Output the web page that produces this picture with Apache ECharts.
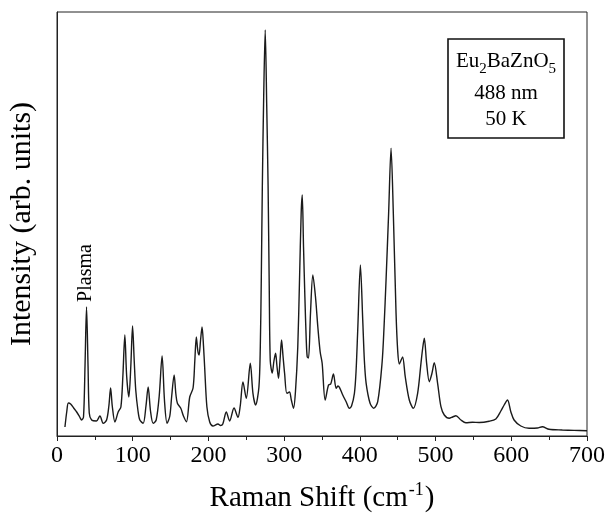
<!DOCTYPE html>
<html>
<head>
<meta charset="utf-8">
<script src="https://cdn.jsdelivr.net/npm/echarts@6/dist/echarts.min.js"></script>
<style>html,body{margin:0;padding:0;background:#fff;}#c{width:608px;height:521px;}</style>
</head>
<body>
<div id="c"></div>
<script>
const shift = [10.5,13,15,18,22,26,30,32.5,35,37,39,41,42.6,45.7,52,56.7,61,65.5,68.5,70.8,73,76.5,80.8,84.4,87,89.6,92,94.9,97.5,99.8,102,104,107,109.4,113.8,117.5,120.4,123.5,127,131,135,138.8,142,145.4,149,151.5,154.7,157,159,163.5,167,171,175.3,179.7,182,184,186,187.6,189.5,191.6,193.5,195,198,201.7,206,212.6,216,219,223.6,228,233.8,239,242,245.6,250,255.3,258.8,262.3,266.7,268.5,269.8,271.2,273,275,277,278.8,280.3,281.7,284.3,286.5,288.7,290.5,292.6,294.5,296.6,298.5,300.6,303.6,307,309.5,312.4,315,318,320.3,322.5,323.9,325.6,327.4,329.2,330.5,332.2,334.8,337.9,341.4,344.5,347.6,350.2,354.2,358.6,361.5,365.1,368.7,371,373,377.4,381.9,386.2,389,392.8,395,397.2,400.7,403.8,406,408.3,413.5,418.3,423.6,429.3,432,434.6,438,441.2,444.2,447.8,450,452.1,454.5,456.5,460,465.3,470.6,476.3,480.7,483,485.1,488.2,491.7,495,498.3,502.7,507.1,511.5,518,522.5,526.9,533.5,540,548.8,557.6,570.8,579.6,586.2,590.6,595,599.4,603.7,612.6,623.5,634.5,641,649.9,667.4,683,700];
const intensity = [9,25,33,32,28,24,19,16,19,70,129,70,23,16,15,20,12.7,16,30,48,30,14,24,29,60,101,60,39,70,110,75,46,25,16,12.7,30,49,25,12.7,16,40,80,35,12.7,20,40,61,42,32.7,27.7,20,14.3,39,48,75,99,85,81,95,109,90,69,29,14,10,12,10.5,12,24,15,28,18.7,30,54,37.7,72.7,42.7,31,49,89,156,250,340,406,330,250,150,75,63,75,82.7,70,57.7,75,96,80,62.7,42.7,44,36,27.7,45,89,156,223,241,189,139,96,79,78,122.7,161,139,109,84,72.7,36,51,52,62,47.7,50,48.7,41,34.3,27.7,30,42.7,65,106,171,116,75,52.7,32.7,27.7,34.3,72.7,110,156,222.7,287.7,222.7,122.7,85,72,76,79,59,36,27.7,42.7,72.7,88,97.7,72.7,54.3,62,73.3,52.7,29.3,21,17.7,19,20.3,16,13.3,13.7,13.5,14.7,17,25,31,36,24.3,16,10,7.7,8,9.3,6.7,6,5.6,5.3];
const xTicks = [0,100,200,300,400,500,600,700];

const chart = echarts.init(document.getElementById('c'));
const serif = '"Liberation Serif","DejaVu Serif",serif';
chart.setOption({
  animation: false,
  backgroundColor: '#fff',
  grid: {left: 57, right: 20, top: 12, bottom: 85, show: true, borderColor: '#222', borderWidth: 1, backgroundColor: 'transparent'},
  xAxis: {
    type: 'value', min: xTicks[0], max: xTicks[xTicks.length-1], interval: 100,
    axisLine: {show: true, lineStyle: {color: '#222', width: 1}},
    axisTick: {show: true, length: 5, inside: false, lineStyle: {color: '#222'}},
    minorTick: {show: true, splitNumber: 2, length: 4, lineStyle: {color: '#222'}},
    splitLine: {show: false},
    axisLabel: {color: '#000', fontFamily: serif, fontSize: 24, margin: 8}
  },
  yAxis: {
    type: 'value', min: 0, max: 424,
    axisLine: {show: true, lineStyle: {color: '#222'}},
    axisTick: {show: false}, axisLabel: {show: false}, splitLine: {show: false}
  },
  series: [{
    type: 'line',
    data: shift.map((s, i) => [s, intensity[i]]),
    showSymbol: false, smooth: 0.3,
    lineStyle: {color: '#1a1a1a', width: 1.4}
  }],
  graphic: [
    {type: 'text', x: 322, y: 497, style: {
      text: '{a|Raman Shift (cm}{s|-1}{a|)}', align: 'center', verticalAlign: 'middle', textAlign: 'center', textVerticalAlign: 'middle',
      rich: {a: {fontFamily: serif, fontSize: 29, fill: '#000', lineHeight: 32, verticalAlign: 'bottom'},
             s: {fontFamily: serif, fontSize: 18, fill: '#000', verticalAlign: 'top', lineHeight: 32, padding: [0,1,13,1]}}
    }},
    {type: 'text', x: 22, y: 224, rotation: Math.PI/2, style: {
      text: 'Intensity (arb. units)', fontFamily: serif, fontSize: 30, fill: '#000',
      align: 'center', verticalAlign: 'middle', textAlign: 'center', textVerticalAlign: 'middle'
    }},
    {type: 'text', x: 86, y: 273, rotation: Math.PI/2, style: {
      text: 'Plasma', fontFamily: serif, fontSize: 20, fill: '#000',
      align: 'center', verticalAlign: 'middle', textAlign: 'center', textVerticalAlign: 'middle'
    }},
    {type: 'rect', shape: {x: 448, y: 39, width: 116, height: 99}, style: {fill: '#fff', stroke: '#111', lineWidth: 1.6}, z: 10},
    {type: 'text', x: 506, y: 64, z: 11, style: {
      text: '{a|Eu}{b|2}{a|BaZnO}{b|5}', align: 'center', verticalAlign: 'middle', textAlign: 'center', textVerticalAlign: 'middle',
      rich: {a: {fontFamily: serif, fontSize: 21, fill: '#000', lineHeight: 26, verticalAlign: 'top'},
             b: {fontFamily: serif, fontSize: 15, fill: '#000', lineHeight: 26, verticalAlign: 'bottom', padding: [8,0,0,0]}}
    }},
    {type: 'text', x: 506, y: 93, z: 11, style: {text: '488 nm', fontFamily: serif, fontSize: 21, fill: '#000', align: 'center', verticalAlign: 'middle', textAlign: 'center', textVerticalAlign: 'middle'}},
    {type: 'text', x: 506, y: 119, z: 11, style: {text: '50 K', fontFamily: serif, fontSize: 21, fill: '#000', align: 'center', verticalAlign: 'middle', textAlign: 'center', textVerticalAlign: 'middle'}}
  ]
});
</script>
</body>
</html>
